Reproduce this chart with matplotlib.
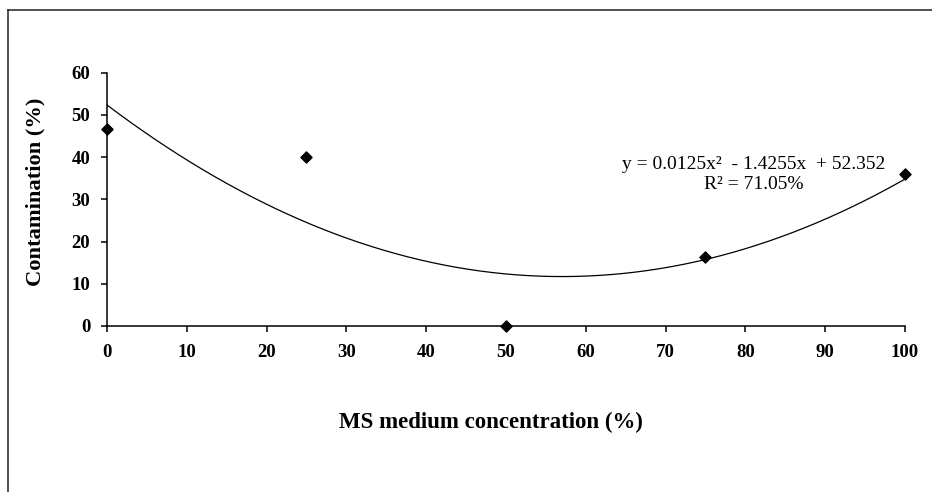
import numpy as np
import matplotlib
matplotlib.use("Agg")
import matplotlib.pyplot as plt
from matplotlib.lines import Line2D

plt.rcParams["font.family"] = ["Liberation Serif", "DejaVu Serif"]

# --- data ---
ms_conc = [0, 25, 50, 75, 100]
contamination = [46.7, 40.0, 0.0, 16.3, 36.0]
# quadratic trend coefficients (as printed on the chart)
trend_coef = [0.0125, -1.4255, 52.352]
r2_text = "R² = 71.05%"
eq_text = "y = 0.0125x²  - 1.4255x  + 52.352"

x_ticks = list(range(0, 101, 10))
y_ticks = list(range(0, 61, 10))

fig = plt.figure(figsize=(9.32, 4.92), dpi=100)
ax = fig.add_axes([0.1148, 0.3374, 0.8562, 0.5148])

xs = np.linspace(0, 100, 200)
ax.plot(xs, np.polyval(trend_coef, xs), color="black", lw=0.9)
ax.scatter(ms_conc, contamination, marker="D", s=32, color="black", zorder=3, clip_on=False)

ax.set_xlim(0, 100)
ax.set_ylim(0, 60)
ax.set_xticks(x_ticks)
ax.set_yticks(y_ticks)
for side in ["top", "right"]:
    ax.spines[side].set_visible(False)
for side in ["left", "bottom"]:
    ax.spines[side].set_linewidth(1.1)
ax.tick_params(direction="out", length=4, width=1.1, labelsize=13.5)
ax.tick_params(axis="x", pad=9)
ax.tick_params(axis="y", pad=8)
for lab in ax.get_xticklabels() + ax.get_yticklabels():
    lab.set_fontweight("bold")

ax.set_xlabel("MS medium concentration (%)", fontsize=16.5, fontweight="bold", va="center")
ax.xaxis.set_label_coords(0.481, -0.382)
ax.set_ylabel("Contamination (%)", fontsize=16.2, fontweight="bold", va="center")
ax.yaxis.set_label_coords(-0.0902, 0.531)

ax.text(81.0, 36.2, eq_text, ha="center", va="bottom", fontsize=14)
ax.text(81.0, 35.6, r2_text, ha="center", va="top", fontsize=14)

# border lines (top and left) around the figure
fig.add_artist(Line2D([8 / 932, 1], [1 - 10 / 492, 1 - 10 / 492], color="#222222", lw=1.1))
fig.add_artist(Line2D([8 / 932, 8 / 932], [0, 1 - 10 / 492], color="#222222", lw=1.1))

fig.savefig("out.png", dpi=100)
